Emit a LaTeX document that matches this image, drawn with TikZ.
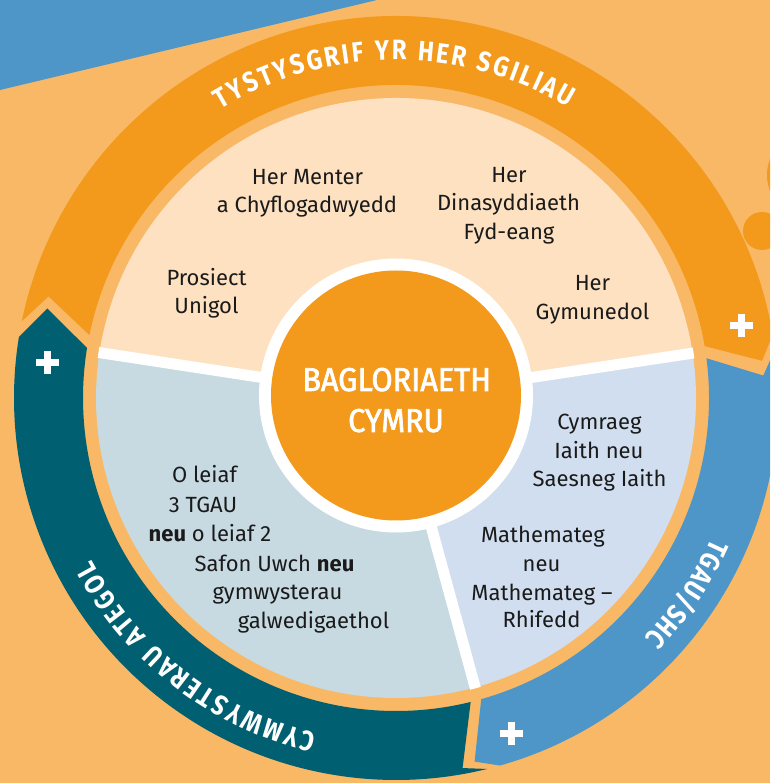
\documentclass[tikz,border=0pt]{standalone}
\usepackage{fontspec}
\setmainfont{Fira Sans}
\newfontfamily\arcfont{Fira Sans}[FakeStretch=0.85]
\newfontfamily\titlefont{Fira Sans}[FakeStretch=0.93,FakeBold=2]
\usetikzlibrary{decorations.text}
\definecolor{bgor}{HTML}{F8B866}
\definecolor{orng}{HTML}{F39A1C}
\definecolor{peach}{HTML}{FDE1C1}
\definecolor{greyblue}{HTML}{C7DAE2}
\definecolor{paleblue}{HTML}{D1DEEF}
\definecolor{tealc}{HTML}{005F70}
\definecolor{bluec}{HTML}{4F96C8}
\definecolor{txt}{HTML}{1A1A1A}
% color, tail angle, head angle, tail notch offset, tail notch radius, head tip offset, head tip radius
\newcommand{\ringarrow}[7]{%
  \fill[#1] (#2:313) arc[start angle=#2, end angle=#3, radius=313]
    -- ({#3-#6}:#7) -- (#3:382) arc[start angle=#3, end angle=#2, radius=382]
    -- ({#2-#4}:#5) -- cycle;}
\tikzset{
  body/.style={anchor=base, inner sep=0pt, text=txt, font=\fontsize{22}{26}\selectfont},
  title/.style={anchor=base, inner sep=0pt, text=white, font=\titlefont\fontsize{33}{36}\selectfont},
  arctext/.style={decorate, decoration={text along path, text color=white,
      text align={fit to path}, text={|\arcfont\fontsize{28}{30}\selectfont\bfseries|#1}}},
}
\begin{document}
\begin{tikzpicture}[x=1pt,y=1pt]
\useasboundingbox (-396,-385) rectangle (374,398);
\clip (-396,-385) rectangle (374,398);
\fill[bgor] (-396,-385) rectangle (374,398);
\begin{scope}[shift={(-396,398)},y=-1pt]
  \fill[bluec] (0,0) -- (377,0) -- (0,90) -- cycle;
  \fill[orng] (762,231) circle[radius=19];
  \fill[orng] (810,175) circle[radius=43];
\end{scope}
% outer ring arrows
\ringarrow{orng}{168.4}{9.55}{4.7}{362}{3.75}{368}
\ringarrow{bluec}{7.3}{-74.2}{3.8}{368}{3.6}{372}
\ringarrow{tealc}{-76.2}{-189.2}{3.6}{376}{5.2}{360}
% pie sectors
\fill[peach] (0,0) -- (8.6:300) arc[start angle=8.6, end angle=171.3, radius=300] -- cycle;
\fill[greyblue] (0,0) -- (171.3:300) arc[start angle=171.3, end angle=285.3, radius=300] -- cycle;
\fill[paleblue] (0,0) -- (-74.7:300) arc[start angle=-74.7, end angle=8.6, radius=300] -- cycle;
\draw[white, line width=11] (0,0) -- (171.3:301);
\draw[white, line width=11] (0,0) -- (8.6:301);
\draw[white, line width=11] (0,0) -- (-74.7:301);
% centre
\fill[white] (0,2.5) circle[radius=137];
\fill[orng] (0,2.5) circle[radius=125];
% arc texts
\path[arctext={TYSTYSGRIF YR HER SGILIAU}] (121.3:338) arc[start angle=121.3, end angle=59.4, radius=338];
\path[arctext={TGAU/SHC}] (-24:345) arc[start angle=-24, end angle=-44, radius=345];
\path[arctext={CYMWYSTERAU ATEGOL}] (256.7:345) arc[start angle=256.7, end angle=208, radius=345];
\begin{scope}[shift={(-396,398)},y=-1pt]
  \foreach \cx/\cy in {48/363, 741/326, 511/733}{
    \fill[white] (\cx-11.5,\cy-3.5) rectangle (\cx+11.5,\cy+3.5);
    \fill[white] (\cx-3.5,\cy-11.5) rectangle (\cx+3.5,\cy+11.5);
  }
  \node[title] (tA) at (396.7,391) {BAGLORIAETH};
  \node[title] (tB) at (396,432) {CYMRU};
  \foreach \n/\t/\x/\y in {
    pa/{Her Menter}/307.5/185, pb/{a Chyflogadwyedd}/307/212.5,
    pc/{Her}/509/182.5, pd/{Dinasyddiaeth}/508.5/211, pe/{Fyd-eang}/509/239.5,
    pf/{Prosiect}/206.5/286, pg/{Unigol}/206.5/314,
    ph/{Her}/592.5/291, pi/{Gymunedol}/592.5/319.5,
    la/{O leiaf}/204.5/483, lb/{3 TGAU}/203/513, lc/{\textbf{neu} o leiaf 2}/210/541.7,
    ld/{Safon Uwch \textbf{neu}}/274.5/571, le/{gymwysterau}/277.5/599.5, lf/{galwedigaethol}/313.5/628.5,
    ra/{Cymraeg}/599.5/430, rb/{Iaith neu}/599/458.5, rc/{Saesneg Iaith}/599.5/487,
    rd/{Mathemateg}/543/543, re/{neu}/541.5/571, rf/{Mathemateg –}/542/600, rg/{Rhifedd}/541.5/627.5}{
    \node[body] (\n) at (\x,\y) {\t};
  }
\end{scope}
\end{tikzpicture}
\end{document}
